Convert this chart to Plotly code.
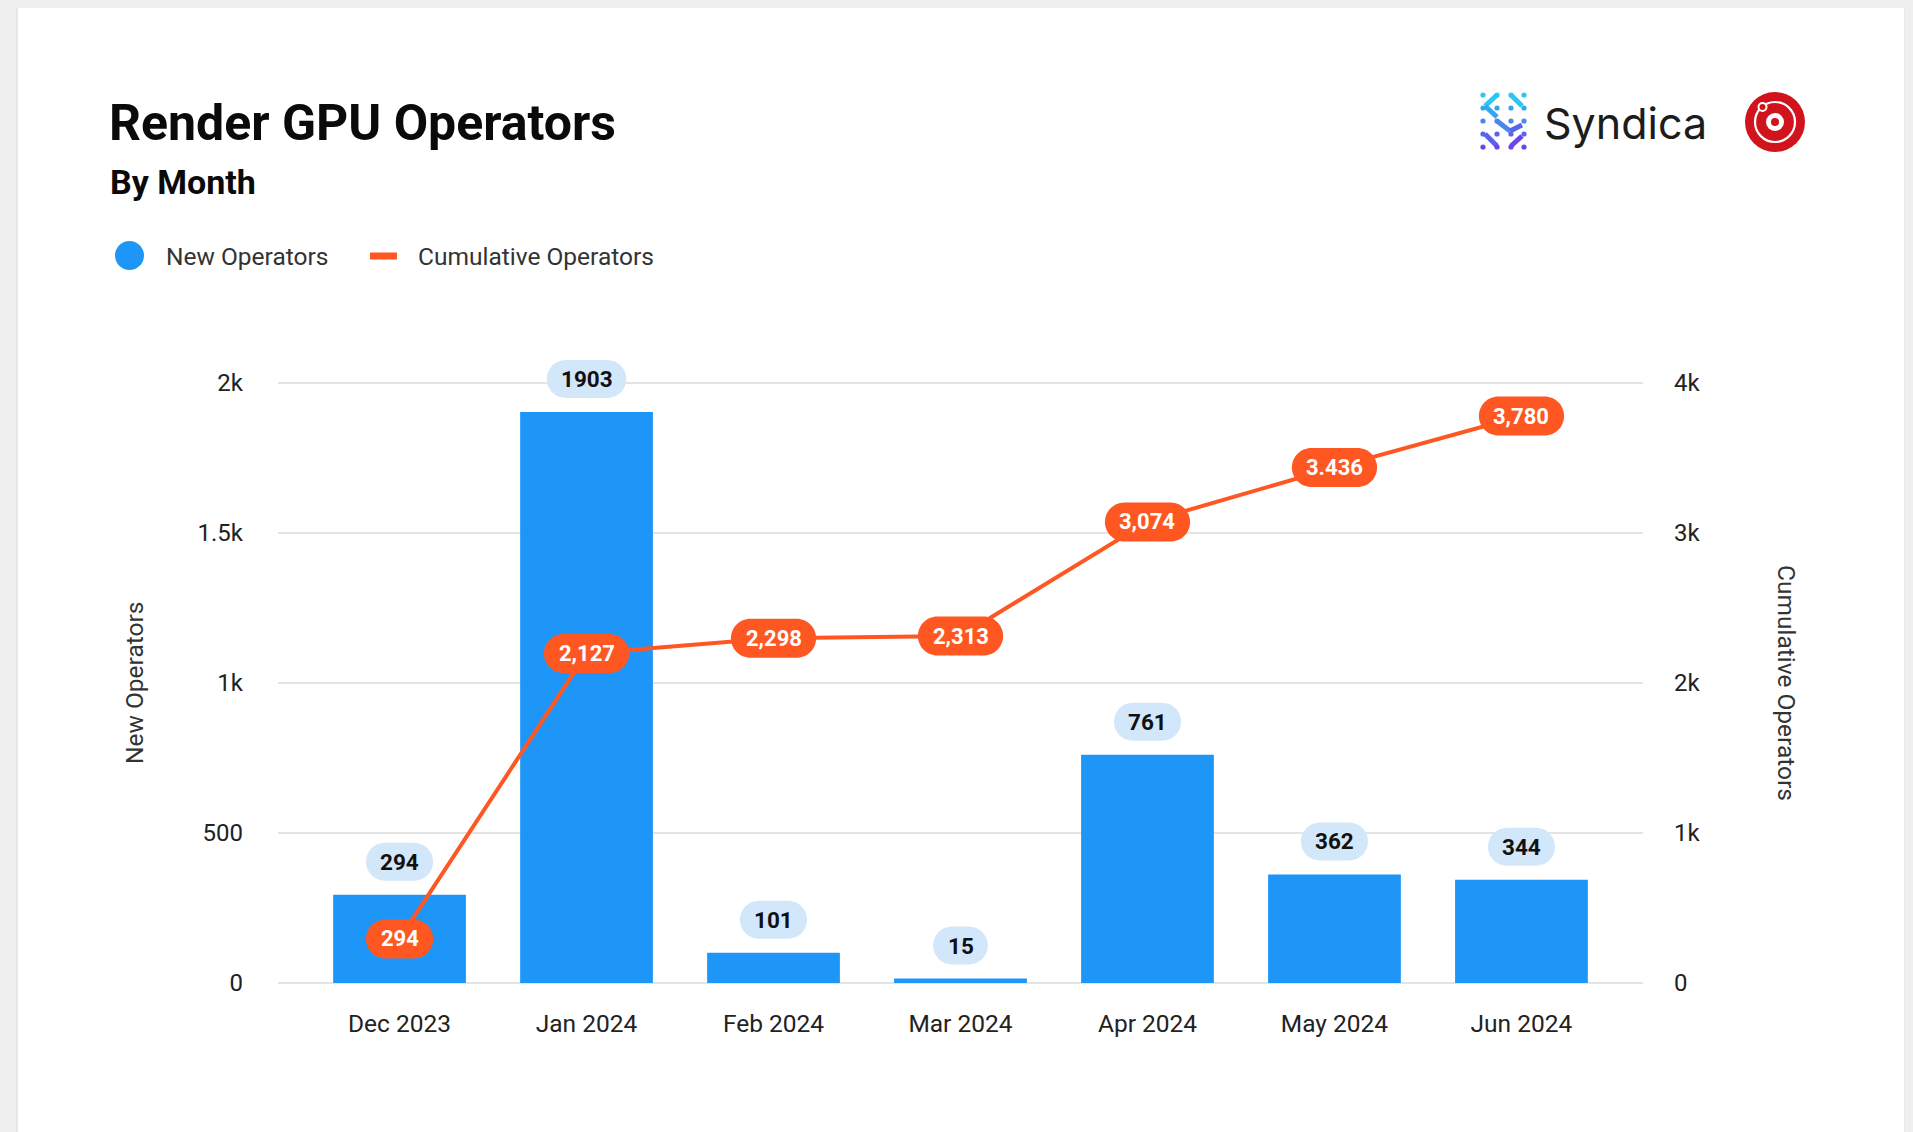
import plotly.graph_objects as go

# ---------------- data ----------------
months = ["Dec 2023", "Jan 2024", "Feb 2024", "Mar 2024", "Apr 2024", "May 2024", "Jun 2024"]
new_ops = [294, 1903, 101, 15, 761, 362, 344]
cum_ops = [294, 2197, 2298, 2313, 3074, 3436, 3780]
cum_labels = ["294", "2,127", "2,298", "2,313", "3,074", "3.436", "3,780"]
left_tickvals = [0, 500, 1000, 1500, 2000]
left_ticktext = ["0", "500", "1k", "1.5k", "2k"]
right_tickvals = [0, 1000, 2000, 3000, 4000]
right_ticktext = ["0", "1k", "2k", "3k", "4k"]

# ---------------- styling ----------------
OFF = 8                     # default body margin of the page
W, H = 1913 - OFF, 1132 - OFF
# plot area in reference-page pixels
L, R = 278, 1643
Y_TOP_VAL, Y_TOP_PX = 2000, 383
Y_ZERO_PX = 983
PXU = (Y_ZERO_PX - Y_TOP_PX) / Y_TOP_VAL      # px per unit (left axis)
Y_LO, Y_HI = -50, 2200
PT = Y_ZERO_PX - Y_HI * PXU
PB = Y_ZERO_PX - Y_LO * PXU

BLUE = "#1E96F8"
PILL_BLUE = "#D3E7FA"
ORANGE = "#FF5722"
FONT = "Roboto"


def px(x):
    return (x - L) / (R - L)


def py(y):
    return (PB - y) / (PB - PT)


def text_w(s, digit=12.4, punct=5.6):
    return sum(punct if c in ",." else digit for c in s)


def pill(w, h, dy=0.0):
    r = h / 2
    hw = w / 2 - r
    k = 0.5523 * r
    return (f"M{-hw},{dy - r} L{hw},{dy - r} "
            f"C{hw + k},{dy - r} {hw + r},{dy - k} {hw + r},{dy} "
            f"C{hw + r},{dy + k} {hw + k},{dy + r} {hw},{dy + r} "
            f"L{-hw},{dy + r} "
            f"C{-hw - k},{dy + r} {-hw - r},{dy + k} {-hw - r},{dy} "
            f"C{-hw - r},{dy - k} {-hw - k},{dy - r} {-hw},{dy - r} Z")


fig = go.Figure()
fig.add_trace(go.Bar(x=months, y=new_ops, marker=dict(color=BLUE, line=dict(width=0)),
                     width=0.71, name="New Operators", hoverinfo="skip"))
fig.add_trace(go.Scatter(x=months, y=cum_ops, yaxis="y2", mode="lines",
                         line=dict(color=ORANGE, width=4), name="Cumulative Operators",
                         hoverinfo="skip"))

shapes = []
annotations = []

# white card on gray page
shapes.append(dict(type="rect", xref="paper", yref="paper", x0=px(17), x1=px(1905),
                   y0=py(1150), y1=py(6), fillcolor="white",
                   line=dict(color="#e2e2e2", width=1.5), layer="below"))

# bar value pills
for m, v in zip(months, new_ops):
    s = str(v)
    shapes.append(dict(type="path", xref="x", yref="y", xsizemode="pixel", ysizemode="pixel",
                       xanchor=m, yanchor=v, path=pill(text_w(s) + 30, 38, 33),
                       fillcolor=PILL_BLUE, line=dict(width=0), layer="above"))
    annotations.append(dict(x=m, y=v, xref="x", yref="y", yshift=33, text=f"<b>{s}</b>",
                            showarrow=False, font=dict(family=FONT, size=22.5, color="#111")))

# cumulative pills
for m, v, s in zip(months, cum_ops, cum_labels):
    shapes.append(dict(type="path", xref="x", yref="y2", xsizemode="pixel", ysizemode="pixel",
                       xanchor=m, yanchor=v, path=pill(text_w(s) + 30, 39, 0),
                       fillcolor=ORANGE, line=dict(width=0), layer="above"))
    annotations.append(dict(x=m, y=v, xref="x", yref="y2", text=f"<b>{s}</b>",
                            showarrow=False, font=dict(family=FONT, size=22, color="white")))

# titles
annotations.append(dict(xref="paper", yref="paper", x=px(107), y=py(123), xanchor="left",
                        yanchor="middle", text="<b>Render GPU Operators</b>", showarrow=False,
                        font=dict(family=FONT, size=50, color="#0a0a0a")))
annotations.append(dict(xref="paper", yref="paper", x=px(108), y=py(182), xanchor="left",
                        yanchor="middle", text="<b>By Month</b>", showarrow=False,
                        font=dict(family=FONT, size=34, color="#0a0a0a")))

# legend (manual)
shapes.append(dict(type="circle", xref="paper", yref="paper", x0=px(115), x1=px(144),
                   y0=py(270), y1=py(241), fillcolor=BLUE, line=dict(width=0)))
annotations.append(dict(xref="paper", yref="paper", x=px(164), y=py(256), xanchor="left",
                        yanchor="middle", text="New Operators", showarrow=False,
                        font=dict(family=FONT, size=24.5, color="#333")))
shapes.append(dict(type="line", xref="paper", yref="paper", x0=px(370), x1=px(397),
                   y0=py(256), y1=py(256), line=dict(color=ORANGE, width=7)))
annotations.append(dict(xref="paper", yref="paper", x=px(416), y=py(256), xanchor="left",
                        yanchor="middle", text="Cumulative Operators", showarrow=False,
                        font=dict(family=FONT, size=24.5, color="#333")))

# axis titles
annotations.append(dict(xref="paper", yref="paper", x=px(134), y=py(683), textangle=-90,
                        xanchor="center", yanchor="middle",
                        text="New Operators", showarrow=False,
                        font=dict(family=FONT, size=24.5, color="#333")))
annotations.append(dict(xref="paper", yref="paper", x=px(1787), y=py(683), textangle=90,
                        xanchor="center", yanchor="middle",
                        text="Cumulative Operators", showarrow=False,
                        font=dict(family=FONT, size=24.5, color="#333")))

# Syndica logo (decorative)
annotations.append(dict(xref="paper", yref="paper", x=px(1542), y=py(123), xanchor="left",
                        yanchor="middle", text="Syndica", showarrow=False,
                        font=dict(family="Inter", size=43, color="#1c1c1c")))
cols = [1483, 1497, 1511, 1524]
rows = [95, 108, 121, 134, 147]
row_cols = ["#2BC6F4", "#33A6F0", "#4A86EE", "#5A63EC", "#6B44EA"]
links = [((1497, 95), (1485, 106)), ((1485, 106), (1497, 117)), ((1511, 95), (1522, 106)),
         ((1497, 121), (1510, 131)), ((1510, 131), (1522, 125)), ((1485, 134), (1497, 146)),
         ((1511, 146), (1522, 136))]
for (x0, y0), (x1, y1) in links:
    shapes.append(dict(type="line", xref="paper", yref="paper", x0=px(x0), x1=px(x1),
                       y0=py(y0), y1=py(y1),
                       line=dict(color=row_cols[min(4, (y0 - 90) // 13)], width=5)))
for j, yy in enumerate(rows):
    for xx in cols:
        shapes.append(dict(type="circle", xref="paper", yref="paper", x0=px(xx - 2.6),
                           x1=px(xx + 2.6), y0=py(yy + 2.6), y1=py(yy - 2.6),
                           fillcolor=row_cols[j], line=dict(width=0)))

# Render logo (decorative)
cx, cy = 1775, 122
RED = "#D0131C"
shapes.append(dict(type="circle", xref="paper", yref="paper", x0=px(cx - 30), x1=px(cx + 30),
                   y0=py(cy + 30), y1=py(cy - 30), fillcolor=RED, line=dict(width=0)))
shapes.append(dict(type="circle", xref="paper", yref="paper", x0=px(cx - 20), x1=px(cx + 20),
                   y0=py(cy + 20), y1=py(cy - 20), fillcolor="rgba(0,0,0,0)",
                   line=dict(color="white", width=2.2)))
shapes.append(dict(type="circle", xref="paper", yref="paper", x0=px(cx - 16.5), x1=px(cx - 8.5),
                   y0=py(cy - 11), y1=py(cy - 19), fillcolor=RED,
                   line=dict(color="white", width=2)))
shapes.append(dict(type="circle", xref="paper", yref="paper", x0=px(cx - 9), x1=px(cx + 9),
                   y0=py(cy + 9), y1=py(cy - 9), fillcolor="white", line=dict(width=0)))
shapes.append(dict(type="circle", xref="paper", yref="paper", x0=px(cx - 4), x1=px(cx + 4),
                   y0=py(cy + 4), y1=py(cy - 4), fillcolor=RED, line=dict(width=0)))

fig.update_layout(
    width=W, height=H,
    margin=dict(l=L - OFF, r=(W + OFF) - R, t=PT - OFF, b=(H + OFF) - PB, pad=0),
    paper_bgcolor="#efefef",
    plot_bgcolor="rgba(0,0,0,0)",
    showlegend=False,
    bargap=0.29,
    font=dict(family=FONT, color="#222"),
    xaxis=dict(type="category", range=[-0.65, 6.65], showgrid=False, zeroline=False,
               showline=False, ticks="", tickfont=dict(family=FONT, size=24.5, color="#222"),
               ticklabelstandoff=8, fixedrange=True),
    yaxis=dict(range=[Y_LO, Y_HI], tickvals=left_tickvals, ticktext=left_ticktext,
               showgrid=True, gridcolor="#e4e4e4", gridwidth=2, zeroline=False,
               showline=False, ticks="", tickfont=dict(family=FONT, size=24, color="#222"),
               ticklabelstandoff=34, fixedrange=True),
    yaxis2=dict(range=[2 * Y_LO, 2 * Y_HI], tickvals=right_tickvals, ticktext=right_ticktext,
                overlaying="y", side="right", showgrid=False, zeroline=False,
                showline=False, ticks="", tickfont=dict(family=FONT, size=24, color="#222"),
                ticklabelstandoff=30, fixedrange=True),
    shapes=shapes,
    annotations=annotations,
)

fig.write_html("out.html", config=dict(displayModeBar=False),
               post_script="document.body.style.background='#efefef';")
